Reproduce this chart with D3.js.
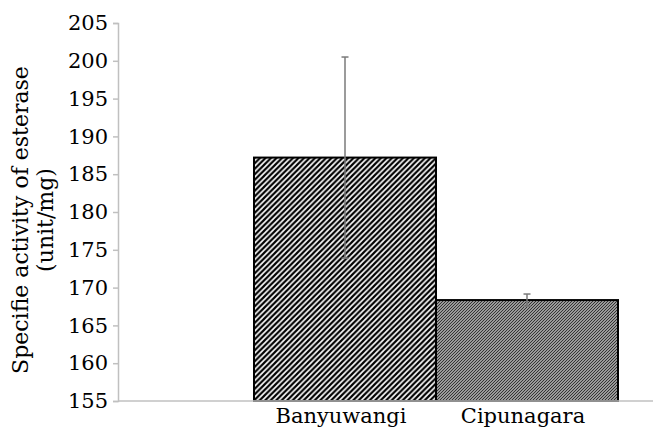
<!DOCTYPE html>
<html>
<head>
<meta charset="utf-8">
<script src="https://cdn.jsdelivr.net/npm/d3@7"></script>
<style>
  body { margin: 0; background: #fff; }
  text { font-family: "DejaVu Serif", serif; fill: #000; }
</style>
</head>
<body>
<div id="chart"></div>
<script>
// Data
const categories = ['Banyuwangi', 'Cipunagara'];
const values = [187.2, 168.35];
const errors = [13.3, 0.8];
const yTicks = [155, 160, 165, 170, 175, 180, 185, 190, 195, 200, 205];

const W = 653, H = 430;
const axisX = 118;

const svg = d3.select('#chart')
  .append('svg')
  .attr('width', W)
  .attr('height', H);

// Fill patterns (upward diagonal hatching)
const defs = svg.append('defs');
const p1 = defs.append('pattern')
  .attr('id', 'hatch1')
  .attr('patternUnits', 'userSpaceOnUse')
  .attr('width', 5.5).attr('height', 5.5);
p1.append('rect').attr('width', 5.5).attr('height', 5.5).attr('fill', '#fff');
p1.append('path')
  .attr('d', 'M-1.375,6.875L6.875,-1.375M-1.375,1.375L1.375,-1.375M4.125,6.875L6.875,4.125')
  .attr('stroke', '#000').attr('stroke-width', 2.2);

const p2 = defs.append('pattern')
  .attr('id', 'hatch2')
  .attr('patternUnits', 'userSpaceOnUse')
  .attr('width', 3).attr('height', 3);
p2.append('rect').attr('width', 3).attr('height', 3).attr('fill', '#999');
p2.append('path')
  .attr('d', 'M-0.75,3.75L3.75,-0.75M-0.75,0.75L0.75,-0.75M2.25,3.75L3.75,2.25')
  .attr('stroke', '#333').attr('stroke-width', 1);

// Scales
const x = d3.scaleBand().domain(categories).range([254, 618]).padding(0);
const y = d3.scaleLinear().domain([155, 205]).range([401, 23]);

// Y axis
const yAxis = svg.append('g')
  .attr('transform', `translate(${axisX},0)`)
  .call(d3.axisLeft(y).tickValues(yTicks).tickSize(5).tickPadding(5));
yAxis.select('.domain').attr('stroke', '#c0c0c0').attr('stroke-width', 1.5);
yAxis.selectAll('.tick line').attr('stroke', '#c0c0c0').attr('stroke-width', 1.5);
yAxis.selectAll('.tick text')
  .style('font-family', '"DejaVu Serif", serif')
  .style('font-size', '21px')
  .attr('fill', '#000');

// Bars
svg.selectAll('.bar')
  .data(categories)
  .enter()
  .append('rect')
  .attr('class', 'bar')
  .attr('x', d => x(d))
  .attr('y', (d, i) => y(values[i]))
  .attr('width', x.bandwidth())
  .attr('height', (d, i) => y(155) - y(values[i]))
  .attr('fill', (d, i) => i === 0 ? 'url(#hatch1)' : 'url(#hatch2)')
  .attr('stroke', '#000')
  .attr('stroke-width', 2);

// X baseline
svg.append('line')
  .attr('x1', axisX).attr('x2', W)
  .attr('y1', y(155)).attr('y2', y(155))
  .attr('stroke', '#c0c0c0').attr('stroke-width', 1.5);

// Error bars
const eb = svg.selectAll('.err')
  .data(categories)
  .enter()
  .append('g')
  .attr('class', 'err')
  .attr('stroke', '#7a7a7a')
  .attr('stroke-width', 1.5);
eb.append('line')
  .attr('x1', d => x(d) + x.bandwidth() / 2)
  .attr('x2', d => x(d) + x.bandwidth() / 2)
  .attr('y1', (d, i) => y(values[i] + errors[i]))
  .attr('y2', (d, i) => y(values[i] - errors[i]));
eb.append('line')
  .attr('x1', d => x(d) + x.bandwidth() / 2 - 3.5)
  .attr('x2', d => x(d) + x.bandwidth() / 2 + 3.5)
  .attr('y1', (d, i) => y(values[i] + errors[i]))
  .attr('y2', (d, i) => y(values[i] + errors[i]));
eb.append('line')
  .attr('x1', d => x(d) + x.bandwidth() / 2 - 3.5)
  .attr('x2', d => x(d) + x.bandwidth() / 2 + 3.5)
  .attr('y1', (d, i) => y(values[i] - errors[i]))
  .attr('y2', (d, i) => y(values[i] - errors[i]));

// Category labels
svg.selectAll('.cat')
  .data(categories)
  .enter()
  .append('text')
  .attr('class', 'cat')
  .attr('x', d => x(d) + x.bandwidth() / 2 - 4)
  .attr('y', 423)
  .attr('text-anchor', 'middle')
  .style('font-size', '21px')
  .text(d => d);

// Y axis title
const title = svg.append('text')
  .attr('transform', 'translate(0,220) rotate(-90)')
  .attr('text-anchor', 'middle')
  .style('font-size', '22px');
title.append('tspan').attr('x', 0).attr('y', 28).text('Specifie activity of esterase');
title.append('tspan').attr('x', 0).attr('y', 53).text('(unit/mg)');
</script>
</body>
</html>
